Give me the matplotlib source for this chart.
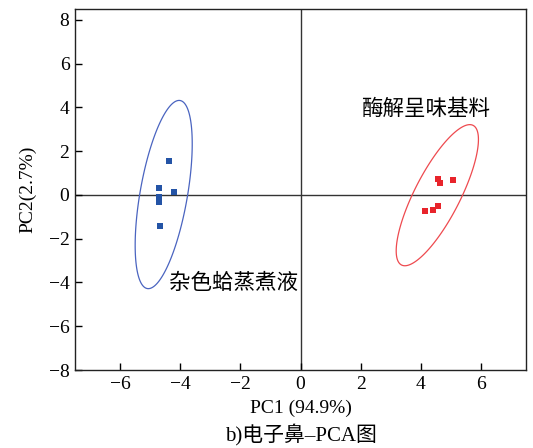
import numpy as np
import matplotlib
matplotlib.use("Agg")
import matplotlib.pyplot as plt
from matplotlib.patches import Polygon

plt.rcParams['font.family'] = ['Liberation Serif', 'Noto Sans CJK SC']
plt.rcParams['axes.unicode_minus'] = True

# scores
blue_x = [-4.37, -4.70, -4.22, -4.71, -4.70, -4.67]
blue_y = [1.55, 0.33, 0.15, -0.08, -0.30, -1.40]
red_x = [4.57, 4.64, 5.07, 4.57, 4.40, 4.15]
red_y = [0.74, 0.53, 0.68, -0.49, -0.70, -0.75]

# confidence ellipses: centre and covariance (data units)
blue_centre = (-4.55, 0.02)
blue_cov = [[0.90, 2.20], [2.20, 18.5]]
red_centre = (4.55, -0.01)
red_cov = [[1.87, 3.48], [3.48, 10.4]]

label_blue = "杂色蛤蒸煮液"
label_red = "酶解呈味基料"
xticks = [-6, -4, -2, 0, 2, 4, 6]
yticks = [-8, -6, -4, -2, 0, 2, 4, 6, 8]


def ellipse_xy(centre, cov, n=300):
    t = np.linspace(0, 2 * np.pi, n, endpoint=False)
    L = np.linalg.cholesky(np.array(cov))
    pts = L @ np.vstack([np.cos(t), np.sin(t)])
    return np.column_stack([pts[0] + centre[0], pts[1] + centre[1]])


fig = plt.figure(figsize=(5.33, 4.48), dpi=100)
ax = fig.add_axes([0.1407, 0.1741, 0.8462, 0.8058])

ax.axhline(0, color='#333333', lw=1.0, zorder=1)
ax.axvline(0, color='#333333', lw=1.0, zorder=1)

ax.add_patch(Polygon(ellipse_xy(blue_centre, blue_cov), closed=True,
                     fill=False, edgecolor='#4a64c0', lw=0.9))
ax.add_patch(Polygon(ellipse_xy(red_centre, red_cov), closed=True,
                     fill=False, edgecolor='#ee4a4f', lw=0.9))

ax.plot(blue_x, blue_y, 's', color='#2454a6', ms=5, mew=0)
ax.plot(red_x, red_y, 's', color='#e8242b', ms=5, mew=0)

ax.text(-2.24, -4.02, label_blue, fontsize=15.5, ha='center', va='center',
        family=['Noto Sans CJK SC'])
ax.text(4.17, 3.94, label_red, fontsize=15.5, ha='center', va='center',
        family=['Noto Sans CJK SC'])

ax.set_xlim(-7.5, 7.5)
ax.set_ylim(-8, 8.5)
ax.set_xticks(xticks)
ax.set_yticks(yticks)
ax.tick_params(direction='in', length=5, width=1, labelsize=14, pad=4)
for s in ax.spines.values():
    s.set_linewidth(1.0)
    s.set_color('#222222')

ax.set_xlabel("PC1 (94.9%)", fontsize=14, labelpad=5)
ax.set_ylabel("PC2(2.7%)", fontsize=14, labelpad=9)
fig.text(0.564, 0.028, "b)电子鼻–PCA图", fontsize=15, ha='center', va='center')

fig.savefig("out.png", dpi=100)
